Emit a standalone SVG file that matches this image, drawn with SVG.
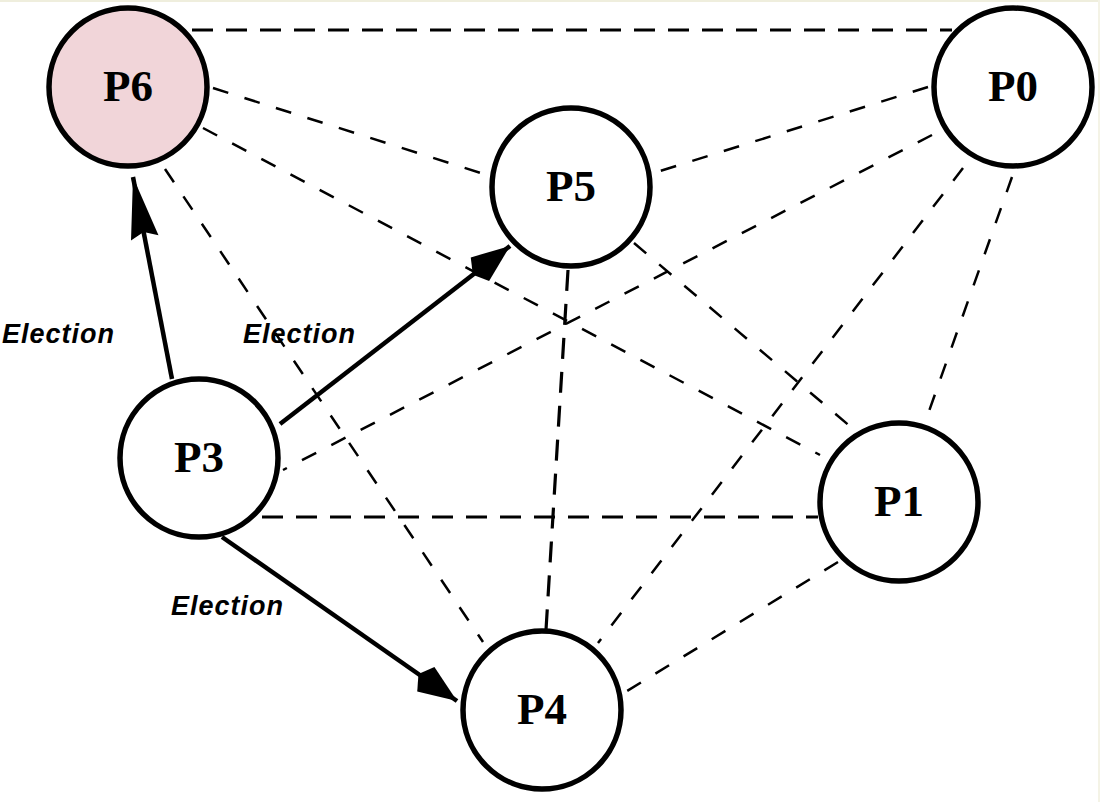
<svg xmlns="http://www.w3.org/2000/svg" width="1100" height="802" viewBox="0 0 1100 802">
<style>
.node circle{fill:#ffffff;stroke:#000;stroke-width:5.5}
.node text{font-family:"Liberation Serif","Times New Roman",serif;font-weight:bold;font-size:45px;text-anchor:middle;fill:#000}
.d{stroke:#000;stroke-width:2.5;stroke-dasharray:16 17;fill:none}
.dh{stroke:#000;stroke-width:3.2;stroke-dasharray:21 13;fill:none}
.a{stroke:#000;stroke-width:4.5;fill:none}
.lbl{font-family:"Liberation Sans",Arial,sans-serif;font-weight:bold;font-style:italic;font-size:27px;letter-spacing:1px;fill:#000}
</style>
<defs>
<marker id="tri" markerUnits="userSpaceOnUse" markerWidth="80" markerHeight="40" refX="0" refY="0" viewBox="-70 -20 80 40" orient="auto">
<path d="M0,0 L-62,-14 L-56,0 L-62,14 Z" fill="#000"/>
</marker>
<marker id="kite" markerUnits="userSpaceOnUse" markerWidth="60" markerHeight="40" refX="0" refY="0" viewBox="-55 -20 60 40" orient="auto">
<path d="M0,0 L-38,-15 L-47,0 L-38,15 Z" fill="#000"/>
</marker>
</defs>
<rect x="0" y="0" width="1100" height="802" fill="#ffffff"/>
<line x1="0" y1="1" x2="1100" y2="1" stroke="#efeedd" stroke-width="2"/>
<line x1="1099" y1="0" x2="1099" y2="802" stroke="#f4f3e6" stroke-width="2"/>
<g id="connectors">
<line class="dh" x1="192" y1="30" x2="952" y2="30"/>
<line class="d" x1="213" y1="88" x2="484" y2="174"/>
<line class="d" x1="203" y1="128" x2="820" y2="455"/>
<line class="d" x1="165" y1="169" x2="483" y2="642"/>
<line class="d" x1="928" y1="87" x2="657" y2="172"/>
<line class="d" x1="932" y1="135" x2="283" y2="470"/>
<line class="d" x1="963" y1="168" x2="598" y2="643"/>
<line class="d" x1="1012" y1="177" x2="928" y2="414"/>
<line class="dh" x1="568" y1="270" x2="546" y2="630"/>
<line class="d" x1="634" y1="243" x2="852" y2="428"/>
<line class="dh" x1="262" y1="517" x2="818" y2="517"/>
<line class="d" x1="838" y1="562" x2="627" y2="691"/>
<line class="a" x1="172" y1="379" x2="133" y2="177" marker-end="url(#tri)"/>
<line class="a" x1="280" y1="424" x2="510" y2="246" marker-end="url(#kite)"/>
<line class="a" x1="222" y1="537" x2="457" y2="701" marker-end="url(#kite)"/>
<text class="lbl" x="2" y="343">Election</text>
<text class="lbl" x="243" y="343">Election</text>
<text class="lbl" x="171" y="615">Election</text>
</g>
<g id="P6" class="node"><circle cx="128" cy="87" r="79" style="fill:#f1d5d9"/><text x="128" y="101">P6</text></g>
<g id="P0" class="node"><circle cx="1013" cy="87" r="79"/><text x="1013" y="101">P0</text></g>
<g id="P5" class="node"><circle cx="571" cy="187" r="79"/><text x="571" y="201">P5</text></g>
<g id="P3" class="node"><circle cx="199" cy="458" r="79"/><text x="199" y="472">P3</text></g>
<g id="P1" class="node"><circle cx="899" cy="502" r="79"/><text x="899" y="516">P1</text></g>
<g id="P4" class="node"><circle cx="542" cy="710" r="79"/><text x="542" y="724">P4</text></g>
</svg>
